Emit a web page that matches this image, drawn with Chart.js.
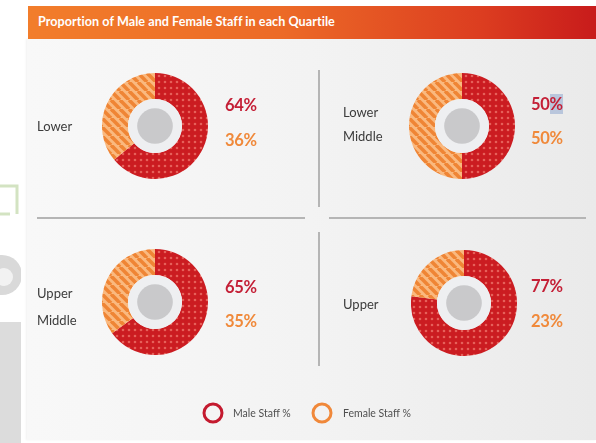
<!DOCTYPE html>
<html>
<head>
<meta charset="utf-8">
<script src="https://cdn.jsdelivr.net/npm/chart.js@4.4.0/dist/chart.umd.min.js"></script>
<style>
  html, body { margin:0; padding:0; width:596px; height:443px; overflow:hidden; background:#ffffff; font-family: Lato, "Open Sans", sans-serif; }
  #deco { position:absolute; left:0; top:0; }
  #card { position:absolute; left:27px; top:39px; width:569px; height:401px;
          background: linear-gradient(to right, #f8f8f8 0%, #f3f3f3 50%, #eaeaea 100%);
          box-shadow: -1px 0 2px rgba(0,0,0,0.06); }
  #header { position:absolute; left:28px; top:6px; width:568px; height:33px;
            background: linear-gradient(to right, #f27d2b 0%, #ec6a27 45%, #dc3d20 80%, #c81b1b 100%); }
  #title { position:absolute; left:38px; top:6px; height:33px; line-height:31px; color:#fff;
           font-size:12.6px; font-weight:700; letter-spacing:0.05px; }
  .donut { position:absolute; }
  .qlabel { position:absolute; color:#3c3c3c; font-size:13px; line-height:24px; }
  .pct { position:absolute; font-size:16.5px; font-weight:700; transform:translateY(-50%); letter-spacing:-0.3px; }
  .male { color:#c41f36; }
  .female { color:#f0893a; }
  .line { position:absolute; background:#b5b5b5; }
  .leg { position:absolute; font-size:10.5px; color:#505050; transform:translateY(-50%); }
  .ring { position:absolute; width:15px; height:15px; border-radius:50%; border:3px solid; transform:translate(-50%,-50%); }
  .hl { background:#b9c6dc; }
</style>
</head>
<body>
<canvas id="deco" width="596" height="443"></canvas>
<div id="card"></div>
<div id="header"></div>
<div id="title"></div>
<div id="stage"></div>
<script>
// ---- data ----
const chartTitle = "Proportion of Male and Female Staff in each Quartile";
const quartiles = ["Lower", "Lower Middle", "Upper Middle", "Upper"];
const quartileLines = [["Lower"], ["Lower", "Middle"], ["Upper", "Middle"], ["Upper"]];
const maleStaff = [64, 50, 65, 77];
const femaleStaff = [36, 50, 35, 23];
const seriesLabels = ["Male Staff %", "Female Staff %"];

// ---- layout (positions only) ----
const cells = [
  { cx:155, cy:126, labelX:37, labelY:[114], pctX:225, pctY:[105,140] },
  { cx:462, cy:126, labelX:343, labelY:[100,124], pctX:531, pctY:[104,138] },
  { cx:155, cy:302, labelX:37, labelY:[281,308], pctX:225, pctY:[287,321] },
  { cx:464, cy:303, labelX:343, labelY:[292], pctX:531, pctY:[286,321] }
];
const R = 53;

document.getElementById('title').textContent = chartTitle;

// background decoration at left edge
(function(){
  const c = document.getElementById('deco').getContext('2d');
  c.strokeStyle = '#d3e3c2'; c.lineWidth = 3;
  c.beginPath(); c.moveTo(0,186); c.lineTo(17,186); c.lineTo(17,214); c.stroke();
  c.beginPath(); c.moveTo(0,214); c.lineTo(10,214); c.stroke();
  c.fillStyle = '#d9d9d9';
  c.beginPath(); c.arc(2,275,20,0,Math.PI*2); c.fill();
  c.fillStyle = '#f2f2f2';
  c.beginPath(); c.arc(4,277,9,0,Math.PI*2); c.fill();
  c.fillStyle = '#dcdcdc';
  c.fillRect(0,322,21,121);
  c.fillStyle = '#ffffff';
  c.fillRect(21,0,6,443);
})();

function dotPattern(){
  const t = document.createElement('canvas'); t.width = 6; t.height = 6;
  const g = t.getContext('2d');
  g.fillStyle = '#cb1c21'; g.fillRect(0,0,6,6);
  g.fillStyle = '#e6605a';
  g.beginPath(); g.arc(3,3,1.3,0,Math.PI*2); g.fill();
  return g.createPattern(t,'repeat');
}
function stripePattern(){
  const t = document.createElement('canvas'); t.width = 9; t.height = 9;
  const g = t.getContext('2d');
  g.fillStyle = '#fab97f'; g.fillRect(0,0,9,9);
  g.strokeStyle = '#ef8535'; g.lineWidth = 3.6;
  for (const o of [-9,0,9]) { g.beginPath(); g.moveTo(o,0); g.lineTo(o+9,9); g.stroke(); }
  return g.createPattern(t,'repeat');
}
const malePat = dotPattern();
const femalePat = stripePattern();

const centerPlugin = {
  id:'centerDisc',
  afterDatasetsDraw(chart){
    const arc = chart.getDatasetMeta(0).data[0];
    if (!arc) return;
    const {x, y, innerRadius} = arc.getProps(['x','y','innerRadius'], true);
    const ctx = chart.ctx;
    ctx.save();
    ctx.fillStyle = '#eeeff1';
    ctx.beginPath(); ctx.arc(x, y, innerRadius, 0, Math.PI*2); ctx.fill();
    ctx.fillStyle = '#c9c9cb';
    ctx.beginPath(); ctx.arc(x, y, innerRadius*0.66, 0, Math.PI*2); ctx.fill();
    ctx.restore();
  }
};

const stage = document.getElementById('stage');
function add(cls, html, x, y){
  const d = document.createElement('div'); d.className = cls; d.innerHTML = html;
  d.style.left = x + 'px'; d.style.top = y + 'px'; stage.appendChild(d); return d;
}

quartiles.forEach((q, i) => {
  const cell = cells[i];
  const cv = document.createElement('canvas');
  cv.className = 'donut'; cv.width = 2*R; cv.height = 2*R;
  cv.style.left = (cell.cx - R) + 'px'; cv.style.top = (cell.cy - R) + 'px';
  stage.appendChild(cv);
  new Chart(cv, {
    type:'doughnut',
    data:{ labels: seriesLabels, datasets:[{ data:[maleStaff[i], femaleStaff[i]],
      backgroundColor:[malePat, femalePat], borderWidth:0 }] },
    options:{ responsive:false, animation:false, events:[], cutout:'51%',
      layout:{ padding:0 },
      plugins:{ legend:{display:false}, tooltip:{enabled:false} } },
    plugins:[centerPlugin]
  });
  quartileLines[i].forEach((ln, k) => add('qlabel', ln, cell.labelX, cell.labelY[k]));
  const mTxt = (i === 1) ? maleStaff[i] + '<span class="hl">%</span>' : maleStaff[i] + '%';
  add('pct male', mTxt, cell.pctX, cell.pctY[0]);
  add('pct female', femaleStaff[i] + '%', cell.pctX, cell.pctY[1]);
});

// dividers
function line(x,y,w,h){ const d = document.createElement('div'); d.className='line';
  Object.assign(d.style,{left:x+'px',top:y+'px',width:w+'px',height:h+'px'}); stage.appendChild(d); }
line(318,70,2,137); line(318,232,2,134);
line(37,217,268,2); line(329,217,257,2);

// legend
const legendPos = [{rx:213, tx:233}, {rx:322, tx:343}];
const legendCols = ['#c41a2f', '#f0883a'];
seriesLabels.forEach((s, k) => {
  const r = add('ring', '', legendPos[k].rx, 413); r.style.borderColor = legendCols[k];
  add('leg', s, legendPos[k].tx, 413);
});
</script>
</body>
</html>
